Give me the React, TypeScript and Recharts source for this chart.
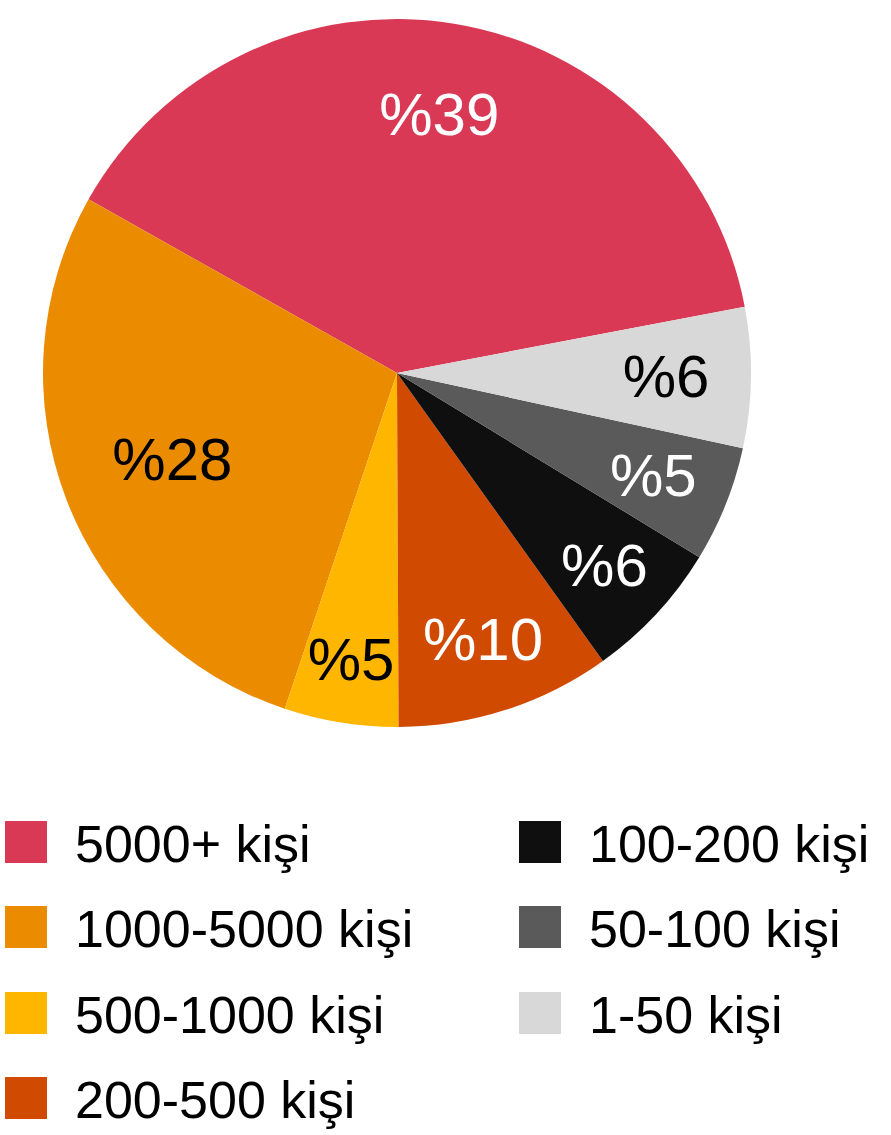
import React from 'react';
import { PieChart, Pie, Cell, Legend } from 'recharts';

const categories = [
  '5000+ kişi',
  '1000-5000 kişi',
  '500-1000 kişi',
  '200-500 kişi',
  '100-200 kişi',
  '50-100 kişi',
  '1-50 kişi',
];
const shares = [38.8, 28, 5.2, 9.8, 6.4, 5.3, 6.4];

const colors = ['#D93954', '#EB8C00', '#FFB600', '#D04A02', '#0F0F0F', '#5A5A5A', '#D8D8D8'];
const labelColors = ['#fff', '#000', '#000', '#fff', '#fff', '#fff', '#000'];
// label distance from centre, as a share of the radius
const labelRadius = [0.74, 0.68, 0.82, 0.79, 0.8, 0.78, 0.76];

const data = categories.map((name, i) => ({ name, value: shares[i] }));

const FONT = '"Liberation Sans", Arial, Helvetica, sans-serif';
const RAD = Math.PI / 180;

const renderLabel = (props: any) => {
  const { cx, cy, midAngle, outerRadius, index, value } = props;
  const r = outerRadius * labelRadius[index];
  const x = cx + r * Math.cos(-midAngle * RAD);
  const y = cy + r * Math.sin(-midAngle * RAD);
  return (
    <text
      x={x}
      y={y}
      fill={labelColors[index]}
      textAnchor="middle"
      dominantBaseline="central"
      fontSize={60}
      fontFamily={FONT}
    >
      {'%' + Math.round(value)}
    </text>
  );
};

const LegendBox = () => {
  const item = (i: number) => (
    <div key={i} style={{ display: 'flex', alignItems: 'center', height: 42, marginBottom: 43.3 }}>
      <div style={{ width: 42, height: 42, background: colors[i], flexShrink: 0 }} />
      <span
        style={{
          marginLeft: 28,
          fontSize: 52,
          lineHeight: '42px',
          position: 'relative',
          top: 2,
          color: '#000',
          whiteSpace: 'nowrap',
        }}
      >
        {categories[i]}
      </span>
    </div>
  );
  return (
    <div style={{ display: 'flex', fontFamily: FONT, textAlign: 'left' }}>
      <div style={{ width: 514 }}>{[0, 1, 2, 3].map(item)}</div>
      <div>{[4, 5, 6].map(item)}</div>
    </div>
  );
};

export default function App() {
  return (
    <div style={{ position: 'absolute', left: 0, top: 0, width: 891, height: 1135, background: '#fff' }}>
      <PieChart width={891} height={1135} margin={{ top: 0, right: 0, bottom: 0, left: 0 }}>
        <Pie
          data={data}
          dataKey="value"
          nameKey="name"
          cx={397}
          cy={373}
          outerRadius={354}
          startAngle={10.8}
          endAngle={370.8}
          stroke="none"
          label={renderLabel}
          labelLine={false}
          isAnimationActive={false}
        >
          {data.map((d, i) => (
            <Cell key={d.name} fill={colors[i]} />
          ))}
        </Pie>
        <Legend
          content={() => <LegendBox />}
          wrapperStyle={{ position: 'absolute', left: 5, top: 821, width: 886 }}
        />
      </PieChart>
    </div>
  );
}
